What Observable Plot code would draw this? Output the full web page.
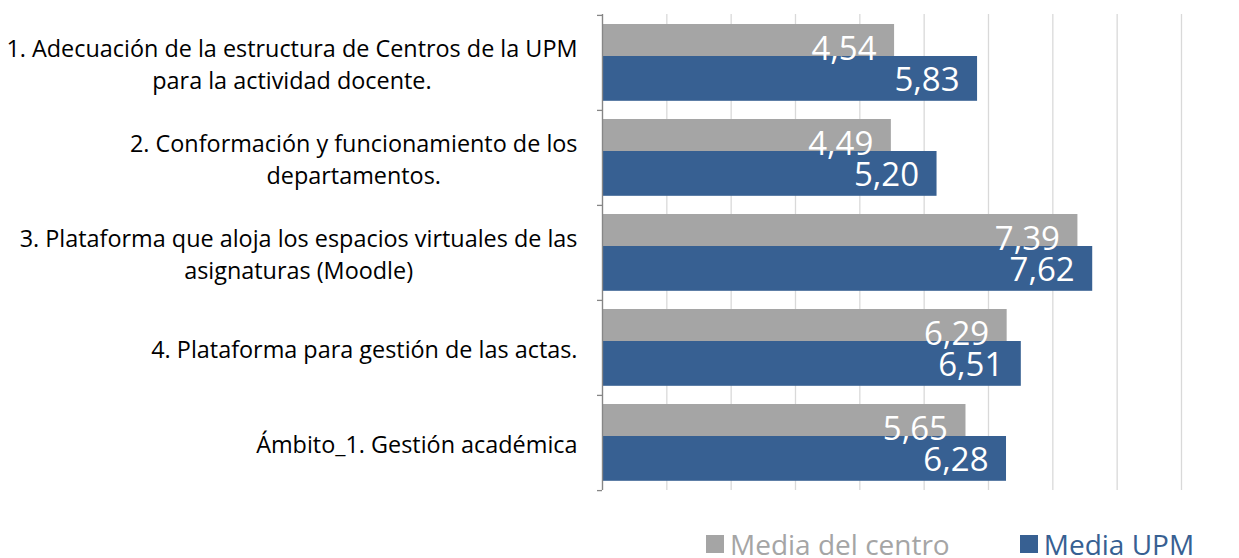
<!DOCTYPE html>
<html>
<head>
<meta charset="utf-8">
<script src="https://cdn.jsdelivr.net/npm/d3@7"></script>
<script src="https://cdn.jsdelivr.net/npm/@observablehq/plot@0.6"></script>
<style>
  html, body { margin: 0; padding: 0; background: #fff; }
  body { width: 1239px; height: 558px; overflow: hidden; font-family: "Open Sans", sans-serif; }
  #legend { position: absolute; left: 706px; top: 530px; display: flex; align-items: center; font-size: 28px; line-height: 28px; white-space: nowrap; }
  #legend .item { display: flex; align-items: center; margin-right: 70px; }
  #legend .sw { width: 18px; height: 18px; margin-right: 6px; }
</style>
</head>
<body>
<div id="chart"></div>
<div id="legend"></div>
<script>
const categories = [
  "1. Adecuación de la estructura de Centros de la UPM\npara la actividad docente.",
  "2. Conformación y funcionamiento de los\ndepartamentos.",
  "3. Plataforma que aloja los espacios virtuales de las\nasignaturas (Moodle)",
  "4. Plataforma para gestión de las actas.",
  "Ámbito_1. Gestión académica"
];
const mediaCentro = [4.54, 4.49, 7.39, 6.29, 5.65];
const mediaUPM = [5.83, 5.20, 7.62, 6.51, 6.28];
const seriesNames = ["Media del centro", "Media UPM"];
const seriesColors = ["#a5a5a5", "#376092"];
const xDomain = [0, 9];

const fmt = d3.formatLocale({decimal: ",", thousands: ".", grouping: [3], currency: ["", "€"]}).format(".2f");

const centro = categories.map((c, i) => ({cat: c, value: mediaCentro[i]}));
const upm = categories.map((c, i) => ({cat: c, value: mediaUPM[i]}));

const marginTop = 14, height = 510, marginBottom = 20;
const band = (height - marginTop - marginBottom) / categories.length;

const plot = Plot.plot({
  width: 1239,
  height,
  marginLeft: 602,
  marginRight: 58,
  marginTop,
  marginBottom,
  style: {fontFamily: "Open Sans, sans-serif", background: "#fff"},
  x: {domain: xDomain, axis: null},
  y: {domain: categories, padding: 0, axis: null},
  marks: [
    Plot.gridX({ticks: 9, stroke: "#d9d9d9", strokeOpacity: 1, strokeWidth: 1.3}),
    Plot.rectX(centro, {y: "cat", x1: 0, x2: "value", fill: seriesColors[0], insetTop: 9, insetBottom: band - 54}),
    Plot.rectX(upm, {y: "cat", x1: 0, x2: "value", fill: seriesColors[1], insetTop: 41, insetBottom: band - 86}),
    Plot.text(centro, {y: "cat", x: "value", text: d => fmt(d.value), textAnchor: "end", dx: -18, dy: -13.6, fill: "#fff", fontSize: 33}),
    Plot.text(upm, {y: "cat", x: "value", text: d => fmt(d.value), textAnchor: "end", dx: -18, dy: 17.4, fill: "#fff", fontSize: 33}),
    Plot.ruleX([0], {stroke: "#868686", strokeWidth: 1.3}),
    Plot.ruleY(categories, {y: d => d, x1: 0, x2: 0, insetLeft: -5, dy: -band / 2, stroke: "#868686", strokeWidth: 1.3}),
    Plot.ruleY(categories.slice(-1), {y: d => d, x1: 0, x2: 0, insetLeft: -5, dy: band / 2, stroke: "#868686", strokeWidth: 1.3}),
    Plot.text(categories, {y: d => d, frameAnchor: "left", dx: -25, textAnchor: "middle", lineAnchor: "middle", lineHeight: 1.33, fontSize: 23.4, fill: "#000", className: "catlabel"})
  ]
});
document.getElementById("chart").appendChild(plot);

// right-align the label block while centring its lines against each other
plot.querySelectorAll('g.catlabel text, .catlabel text').forEach(t => {
  const w = t.getBBox().width;
  const tr = t.getAttribute("transform") || "";
  t.setAttribute("transform", tr + ` translate(${-w / 2},0)`);
});

const legend = document.getElementById("legend");
seriesNames.forEach((name, i) => {
  const item = document.createElement("div");
  item.className = "item";
  item.innerHTML = `<span class="sw" style="background:${seriesColors[i]}"></span><span style="color:${seriesColors[i]}">${name}</span>`;
  legend.appendChild(item);
});
</script>
</body>
</html>
